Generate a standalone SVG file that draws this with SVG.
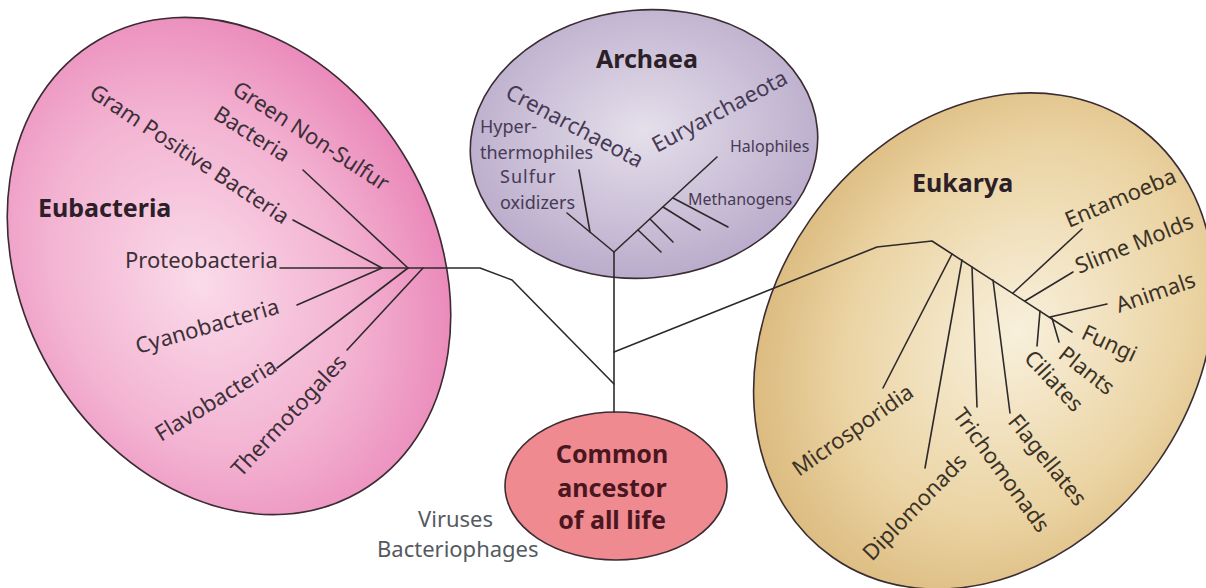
<svg xmlns="http://www.w3.org/2000/svg" width="1206" height="588" viewBox="0 0 1206 588">
  <style>
    .ln { stroke: #2e2a2c; stroke-width: 1.6; fill: none; stroke-linecap: round; stroke-linejoin: round; }
    .edge { stroke: #3a2c32; stroke-width: 1.6; }
    .lbl { font-family: "Noto Sans", "Open Sans", "DejaVu Sans", sans-serif; font-size: 22px; fill: #3c2f38; }
    .sm { font-size: 18px; fill: #463a55; }
    .xs { font-size: 16px; fill: #463a55; }
    .ttl { font-family: "Noto Sans", "Open Sans", "DejaVu Sans", sans-serif; font-weight: bold; font-size: 25px; fill: #2b2028; }
    .root { fill: #4a1620; }
    .euk { fill: #3b3226; }
    .arc { fill: #463a55; }
    .vir { fill: #555a60; }
  </style>
  <defs>
    <radialGradient id="eubG" cx="0.42" cy="0.5" r="0.62">
      <stop offset="0" stop-color="#fadbe9"/>
      <stop offset="0.55" stop-color="#f3b3d2"/>
      <stop offset="1" stop-color="#e982b6"/>
    </radialGradient>
    <radialGradient id="arcG" cx="0.5" cy="0.45" r="0.6">
      <stop offset="0" stop-color="#e5dfeb"/>
      <stop offset="1" stop-color="#b6a7c8"/>
    </radialGradient>
    <radialGradient id="eukG" cx="0.55" cy="0.45" r="0.62">
      <stop offset="0" stop-color="#f8f0dc"/>
      <stop offset="0.6" stop-color="#ebd4a4"/>
      <stop offset="1" stop-color="#d8b576"/>
    </radialGradient>
  </defs>

  <rect width="1206" height="588" fill="#ffffff"/>

  <!-- domain: Eubacteria -->
  <g id="eubacteria">
    <ellipse class="edge" cx="229" cy="266" rx="207" ry="261" transform="rotate(-30 229 266)" fill="url(#eubG)"/>
    <text class="ttl" x="38" y="217">Eubacteria</text>
    <text class="lbl" transform="translate(231 93) rotate(33)">Green Non-Sulfur</text>
    <text class="lbl" transform="translate(212 118) rotate(32)">Bacteria</text>
    <text class="lbl" transform="translate(88 96) rotate(33.5)">Gram Positive Bacteria</text>
    <text class="lbl" x="125" y="268">Proteobacteria</text>
    <text class="lbl" transform="translate(138 354) rotate(-16)">Cyanobacteria</text>
    <text class="lbl" transform="translate(161 442) rotate(-31.5)">Flavobacteria</text>
    <text class="lbl" transform="translate(241 478) rotate(-47)">Thermotogales</text>
  </g>

  <!-- domain: Archaea -->
  <g id="archaea">
    <ellipse class="edge" cx="644" cy="144" rx="174" ry="134" transform="rotate(-5 644 144)" fill="url(#arcG)"/>
    <text class="ttl" x="647" y="68" text-anchor="middle">Archaea</text>
    <text class="lbl arc" transform="translate(504 97) rotate(28)">Crenarchaeota</text>
    <text class="lbl arc" transform="translate(657 153) rotate(-28)">Euryarchaeota</text>
    <text class="lbl sm" x="480" y="133">Hyper-</text>
    <text class="lbl sm" x="480" y="158.5">thermophiles</text>
    <text class="lbl sm" x="500" y="183" letter-spacing="1">Sulfur</text>
    <text class="lbl sm" x="500" y="208.5">oxidizers</text>
    <text class="lbl xs" x="730" y="152">Halophiles</text>
    <text class="lbl xs" x="688" y="205">Methanogens</text>
  </g>

  <!-- domain: Eukarya -->
  <g id="eukarya">
    <ellipse class="edge" cx="984" cy="341" rx="212" ry="264" transform="rotate(35 984 341)" fill="url(#eukG)"/>
    <text class="ttl" x="912" y="192">Eukarya</text>
    <text class="lbl euk" transform="translate(1069 228) rotate(-23)">Entamoeba</text>
    <text class="lbl euk" transform="translate(1079 274) rotate(-22)">Slime Molds</text>
    <text class="lbl euk" transform="translate(1119 313) rotate(-19)">Animals</text>
    <text class="lbl euk" transform="translate(1080 338) rotate(25)">Fungi</text>
    <text class="lbl euk" transform="translate(1057 357) rotate(38)">Plants</text>
    <text class="lbl euk" transform="translate(1023 359) rotate(47)">Ciliates</text>
    <text class="lbl euk" transform="translate(1007 422) rotate(51)">Flagellates</text>
    <text class="lbl euk" transform="translate(952 415) rotate(54)">Trichomonads</text>
    <text class="lbl euk" transform="translate(872 562) rotate(-46)">Diplomonads</text>
    <text class="lbl euk" transform="translate(799 477) rotate(-35)">Microsporidia</text>
  </g>

  <!-- root node -->
  <g id="common-ancestor">
    <ellipse class="edge" cx="616" cy="486" rx="111" ry="74" fill="#ef8a90"/>
    <text class="ttl root" x="612" y="463" text-anchor="middle">Common</text>
    <text class="ttl root" x="612" y="497" text-anchor="middle">ancestor</text>
    <text class="ttl root" x="612" y="529" text-anchor="middle">of all life</text>
  </g>

  <g id="viruses">
    <text class="lbl vir" x="418" y="527">Viruses</text>
    <text class="lbl vir" x="377" y="557">Bacteriophages</text>
  </g>

  <!-- tree branches -->
  <g id="connectors" class="ln">
    <!-- trunk from the common ancestor -->
    <path d="M614 412 V252"/>
    <!-- bacterial lineage -->
    <path d="M280 268 H480 L512 280 L614 384"/>
    <path d="M303 170 L408 268"/>
    <path d="M293 220 L382 268"/>
    <path d="M297 305 L382 268"/>
    <path d="M277 368 L408 268"/>
    <path d="M347 350 L423 268"/>
    <!-- archaeal lineage -->
    <path d="M614 252 L567 213"/>
    <path d="M590 232 L579 170"/>
    <path d="M614 252 L717 157"/>
    <path d="M638 230 L661 252"/>
    <path d="M650 219 L673 242"/>
    <path d="M663 207 L700 230"/>
    <path d="M673 198 L728 227"/>
    <!-- eukaryote lineage -->
    <path d="M614 352 L877 247 L932 241 L1072 332"/>
    <path d="M952 254 L883 388"/>
    <path d="M962 260 L925 468"/>
    <path d="M972 267 L977 407"/>
    <path d="M993 280 L1010 413"/>
    <path d="M1013 293 L1082 229"/>
    <path d="M1025 301 L1073 272"/>
    <path d="M1050 317 L1107 304"/>
    <path d="M1052 318 L1059 342"/>
    <path d="M1040 311 L1037 346"/>
  </g>
</svg>
